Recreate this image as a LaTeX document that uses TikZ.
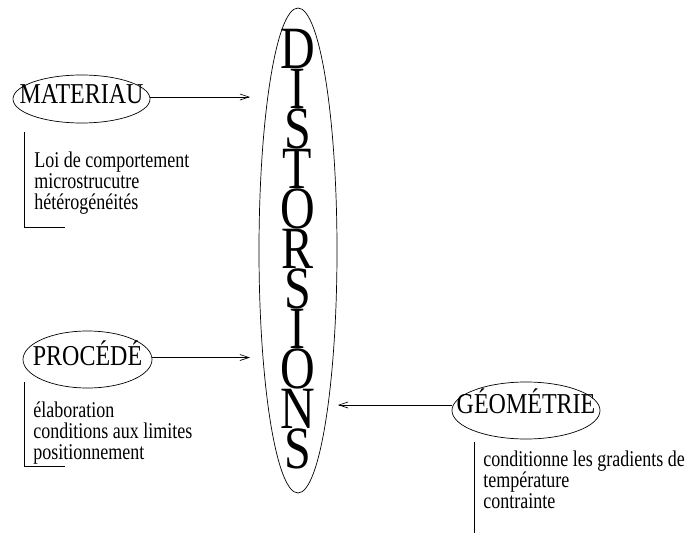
\documentclass[tikz,border=0pt]{standalone}
\usepackage{fontspec}
\setmainfont{Liberation Serif}
\usetikzlibrary{shapes.geometric,arrows.meta}
\newcommand{\tall}[2][1.25]{\scalebox{1}[#1]{#2}}

\begin{document}
\begin{tikzpicture}
    [x=1pt,y=-1pt,line width=0.7pt,>={Straight Barb[length=9pt,width=6pt]},
     every node/.style={inner sep=0pt},
     oval/.style={draw, ellipse},
     lab/.style={text height=19pt, text depth=0pt, font=\fontsize{24}{24}\selectfont},
     big/.style={anchor=base, text height=36pt, text depth=0pt, font=\fontsize{48}{48}\selectfont},
     notes/.style={anchor=base west, font=\fontsize{18}{16.5}\selectfont}]
  \useasboundingbox (0,0) rectangle (686,533);

  % central ellipse
  \node[oval, minimum width=78pt, minimum height=485pt] (dist) at (298,250.5) {};
  \foreach \ch [count=\i from 0] in {D,I,S,T,O,R,S,I,O,N,S}
    \node[big] (d\i) at (297.5,{68+40*\i}) {\tall{\ch}};

  % the three causes
  \node[oval, minimum width=137pt, minimum height=48pt] (mat) at (81.5,99) {};
  \node[lab] (matLab) at (81.5,93.5) {\tall[1.2]{MATERIAU}};
  \node[oval, minimum width=129pt, minimum height=57pt] (proc) at (87.5,359.5) {};
  \node[lab] (procLab) at (87.5,356) {\tall[1.2]{PROCÉDÉ}};
  \node[oval, minimum width=148pt, minimum height=57pt] (geo) at (526,410.5) {};
  \node[lab] (geoLab) at (526,404) {\tall[1.2]{GÉOMÉTRIE}};

  \coordinate (matTip) at (250,97);
  \coordinate (procTip) at (250,357.5);
  \coordinate (geoTip) at (338,405);
  \draw[->] (mat.east |- matTip) -- (matTip);
  \draw[->] (proc.east |- procTip) -- (procTip);
  \draw[->] (geo.west |- geoTip) -- (geoTip);

  % notes
  \node[notes] (matNotes) at (34,167) {\tall{\begin{tabular}[t]{@{}l@{}}Loi de comportement\\ microstrucutre\\ hétérogénéités\end{tabular}}};
  \node[notes] (procNotes) at (33,417) {\tall{\begin{tabular}[t]{@{}l@{}}élaboration\\ conditions aux limites\\ positionnement\end{tabular}}};
  \node[notes] (geoNotes) at (483,466) {\tall{\begin{tabular}[t]{@{}l@{}}conditionne les gradients de\\ température\\ contrainte\end{tabular}}};
  \draw (24.5,132) |- (65,227);
  \draw (24,382) |- (65,466);
  \draw (474,442) -- (474,533);
\end{tikzpicture}
\end{document}
